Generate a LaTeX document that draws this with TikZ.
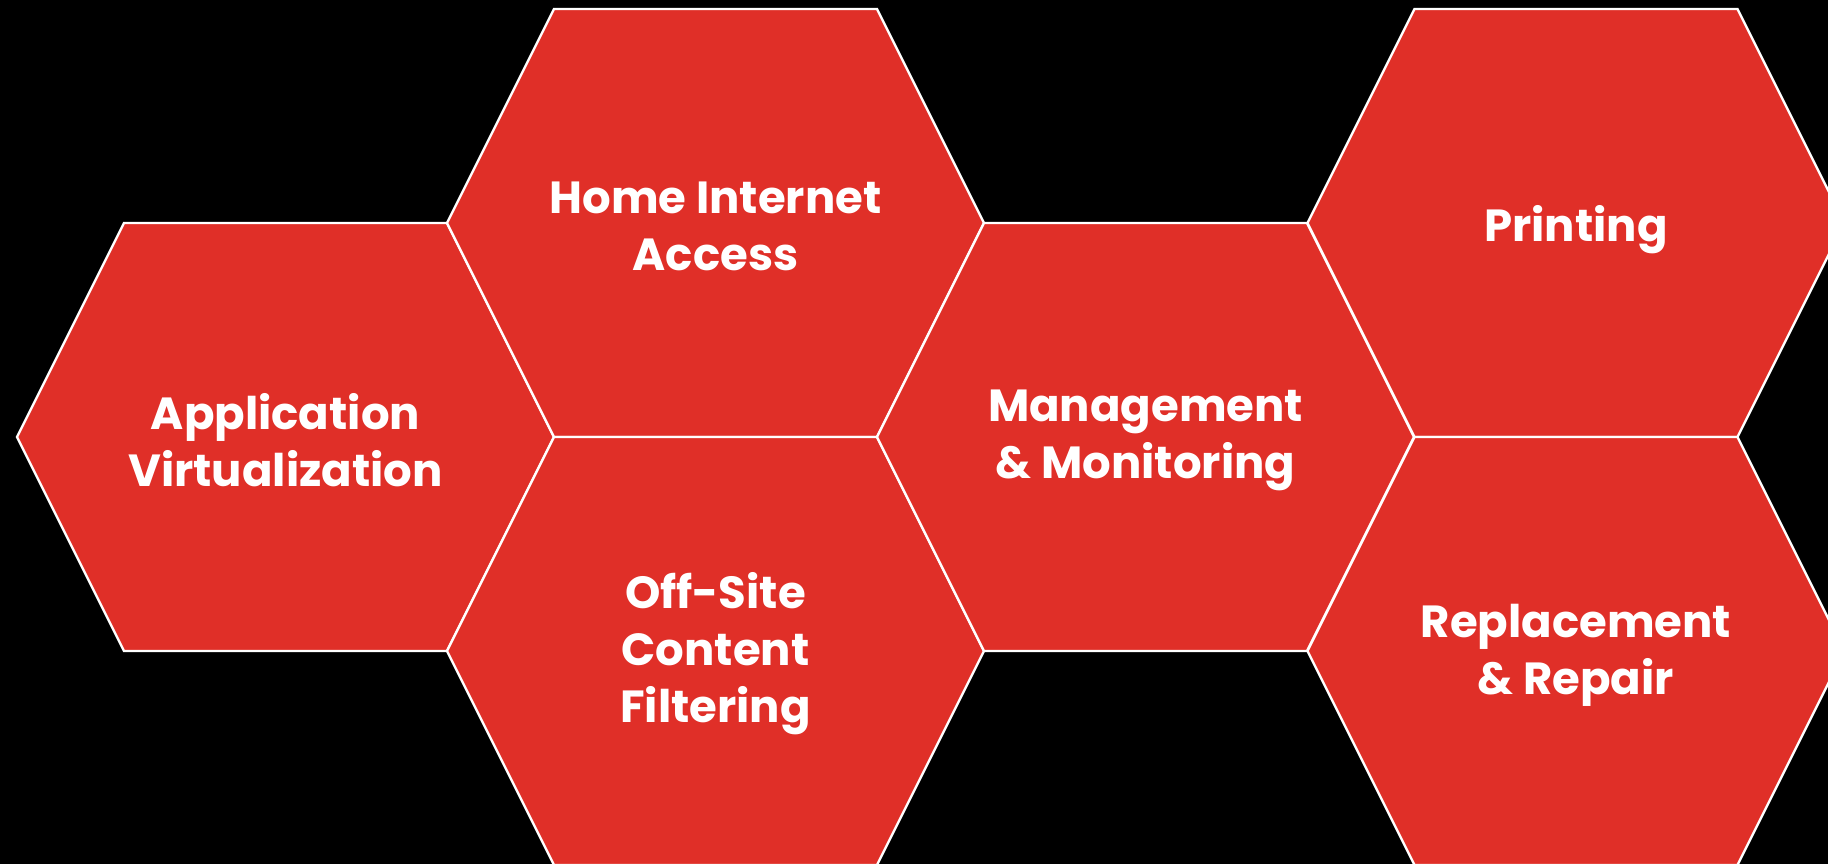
\documentclass[tikz,border=0pt]{standalone}
\usepackage{fontspec}
\setmainfont{Poppins}
\usetikzlibrary{calc}
\definecolor{hexred}{RGB}{224,47,40}
\tikzset{
  hexbox/.style={fill=hexred, draw=white, line width=2.4pt, line join=miter},
  hexlabel/.style={text=white, align=center, font=\bfseries\fontsize{45}{57}\selectfont, inner sep=0pt}
}
\newcommand\hexagonat[3]{%
  \draw[hexbox, shift={(#1,#2)}] (-268.5,0) -- (-161.5,-214) -- (161.5,-214) -- (268.5,0) -- (161.5,214) -- (-161.5,214) -- cycle;
  \coordinate (#3) at (#1,#2);
}
\begin{document}
\begin{tikzpicture}[x=1pt,y=-1pt]
\fill[black] (0,0) rectangle (1828,864);
\useasboundingbox (0,0) rectangle (1828,864);
\begin{scope}
\clip (0,0) rectangle (1828,864);
\hexagonat{285.5}{437}{c1}
\hexagonat{715.5}{223}{c2}
\hexagonat{715.5}{651}{c3}
\hexagonat{1145.5}{437}{c4}
\hexagonat{1576}{223}{c5}
\hexagonat{1576}{651}{c6}
\end{scope}
\node[hexlabel] (t1) at ($(c1)+(0,3)$) {Application\\Virtualization};
\node[hexlabel] (t2) at ($(c2)+(0,3)$) {Home Internet\\Access};
\node[hexlabel] (t3) at ($(c3)+(0,3)$) {Off-Site\\Content\\Filtering};
\node[hexlabel] (t4) at ($(c4)+(0,3)$) {Management\\\& Monitoring};
\node[hexlabel] (t5) at ($(c5)+(0,7)$) {Printing};
\node[hexlabel] (t6) at ($(c6)+(0,4)$) {Replacement\\\& Repair};
\end{tikzpicture}
\end{document}
